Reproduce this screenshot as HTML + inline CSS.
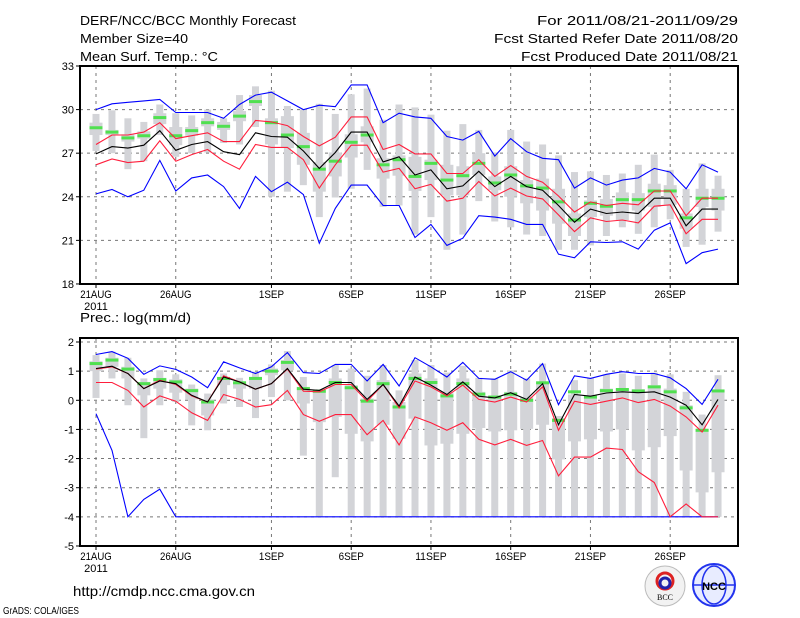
<!DOCTYPE html>
<html><head><meta charset="utf-8"><style>
body{margin:0;background:#fff;}
svg{display:block;font-family:"Liberation Sans",sans-serif;}
text{fill:#000;}
</style></head><body>
<svg id="chart" width="800" height="618" viewBox="0 0 800 618">
<g>
<text x="80" y="25" font-size="13" textLength="216" lengthAdjust="spacingAndGlyphs">DERF/NCC/BCC Monthly Forecast</text>
<text x="80" y="43" font-size="13" textLength="108" lengthAdjust="spacingAndGlyphs">Member Size=40</text>
<text x="80" y="61" font-size="13" textLength="138" lengthAdjust="spacingAndGlyphs">Mean Surf. Temp.: °C</text>
<text x="738" y="25" font-size="13" text-anchor="end" textLength="201" lengthAdjust="spacingAndGlyphs">For 2011/08/21-2011/09/29</text>
<text x="738" y="43" font-size="13" text-anchor="end" textLength="244" lengthAdjust="spacingAndGlyphs">Fcst Started Refer Date 2011/08/20</text>
<text x="738" y="61" font-size="13" text-anchor="end" textLength="217" lengthAdjust="spacingAndGlyphs">Fcst Produced Date 2011/08/21</text>
<text x="80" y="322" font-size="13" textLength="111" lengthAdjust="spacingAndGlyphs">Prec.: log(mm/d)</text>
</g>
<g id="top"></g>
<g id="bot"></g>
<g>
<text x="73" y="596" font-size="14" textLength="182" lengthAdjust="spacingAndGlyphs">http://cmdp.ncc.cma.gov.cn</text>
<text x="3" y="614" font-size="10" textLength="76" lengthAdjust="spacingAndGlyphs">GrADS: COLA/IGES</text>
<g>
<circle cx="665" cy="586" r="20" fill="#f2f2f2" stroke="#bbb"/>
<circle cx="665" cy="581" r="8" fill="none" stroke="#d22" stroke-width="3"/>
<circle cx="665" cy="583" r="5" fill="none" stroke="#22a" stroke-width="3"/>
<text x="665" y="600" font-size="8" text-anchor="middle" font-family="Liberation Serif,serif">BCC</text>
</g>
<g>
<circle cx="714" cy="585" r="21" fill="#e8ecff" stroke="#2233ee" stroke-width="2"/>
<ellipse cx="714" cy="585" rx="12" ry="19" fill="none" stroke="#2233ee" stroke-width="1.5"/>
<line x1="694" y1="585" x2="734" y2="585" stroke="#2233ee" stroke-width="1.5"/>
<text x="714" y="590" font-size="11" text-anchor="middle" fill="#1122cc" font-weight="bold">NCC</text>
</g>
</g>
</svg>
<script>
// x categories
const days = ["21AUG","","","","","26AUG","","","","","","1SEP","","","","","6SEP","","","","","11SEP","","","","","16SEP","","","","","21SEP","","","","","26SEP","","",""];
const tTicks = [18,21,24,27,30,33];
const pTicks = [-5,-4,-3,-2,-1,0,1,2];
// temperature series
const tMax = [30.0,30.4,30.5,30.6,30.7,29.8,29.8,29.8,29.4,30.35,31.0,31.2,30.6,30.0,30.3,30.2,31.7,31.7,29.1,29.75,29.5,29.4,28.15,27.9,28.5,26.8,28.0,27.1,26.65,26.55,24.6,25.3,24.8,25.15,25.3,25.95,25.7,24.55,26.2,25.7];
const tMin = [24.2,24.5,24.0,24.45,26.5,24.4,25.3,25.5,24.7,23.2,25.4,24.35,25.0,24.15,20.8,23.2,24.8,24.8,23.4,23.4,21.2,22.1,20.65,21.15,22.7,22.6,22.45,22.1,22.1,20.05,19.8,20.9,20.85,20.9,20.4,21.7,22.2,19.4,20.15,20.4];
const tMean = [26.95,27.45,27.35,27.55,28.55,27.2,27.6,27.8,27.1,26.9,28.4,28.15,28.1,27.15,25.95,27.05,28.45,28.45,26.4,26.75,25.5,25.85,24.55,24.75,25.75,24.7,25.4,24.7,24.45,23.4,22.25,23.15,22.85,22.95,22.85,23.9,23.9,22.0,23.15,23.15];
const tUp = [27.6,28.25,28.25,28.45,29.1,28.0,28.2,28.4,27.8,27.8,29.25,29.15,28.9,28.15,27.5,28.1,29.5,29.5,27.25,27.6,26.95,26.95,25.6,25.6,26.55,25.4,26.15,25.4,25.0,24.05,22.95,23.65,23.4,23.55,23.45,24.4,24.4,22.7,23.9,23.9];
const tLow = [26.2,26.6,26.35,26.45,27.85,26.45,26.9,27.25,26.45,25.9,27.6,27.4,27.4,26.55,24.6,26.2,27.55,27.55,25.7,25.95,24.55,24.85,23.7,23.9,25.05,24.05,24.6,24.05,23.85,22.75,21.6,22.55,22.3,22.4,22.2,23.35,23.45,21.45,22.45,22.45];
const tMed = [28.75,28.45,28.05,28.2,29.45,28.2,28.55,29.1,28.85,29.55,30.55,29.1,28.25,27.45,25.9,26.45,27.75,28.25,26.2,26.55,25.4,26.3,25.15,25.45,26.3,24.95,25.5,24.75,24.6,23.65,22.4,23.55,23.35,23.8,23.8,24.4,24.4,22.55,23.9,23.9];
const tOutTop = [29.7,29.95,29.4,29.15,30.35,29.75,29.6,30.0,29.4,31.0,31.6,31.3,30.25,30.0,30.4,29.7,31.05,31.45,29.3,30.35,30.15,29.65,28.55,29.0,28.6,27.05,28.6,27.8,27.6,26.85,25.7,25.75,25.5,25.6,26.2,26.9,25.85,24.55,26.3,25.45];
const tOutBot = [27.15,27.0,25.9,26.45,28.25,26.75,27.0,27.05,27.7,27.6,28.8,24.0,24.35,24.8,22.6,23.95,24.55,25.85,23.3,23.4,21.4,22.6,20.35,21.4,23.7,22.3,21.9,21.4,21.3,20.35,20.35,20.65,21.3,21.9,21.45,21.9,22.45,20.55,20.7,21.6];
const tInTop = [29.1,28.6,28.3,28.5,29.75,28.8,28.8,29.4,29.15,29.9,31.0,29.4,29.55,28.4,26.4,27.05,28.3,28.85,26.65,26.85,26.75,26.55,26.2,26.1,27.0,25.4,26.1,25.15,25.25,24.55,22.85,23.75,23.85,24.3,24.25,24.9,24.8,22.85,24.55,24.55];
const tInBot = [28.25,28.25,27.8,28.0,29.0,27.55,28.2,28.85,28.6,29.2,30.25,27.6,27.35,26.2,24.35,25.4,26.7,27.75,25.25,25.45,24.4,25.15,24.1,24.1,25.5,24.45,24.0,23.55,23.05,22.15,21.3,22.6,22.7,22.4,23.05,23.3,23.45,21.8,23.3,23.05];
// precipitation series
const pMax = [1.57,1.67,1.44,0.89,1.18,1.06,0.8,0.43,1.32,1.11,0.92,1.15,1.64,0.95,0.92,1.23,1.23,0.66,1.23,0.49,1.46,1.15,0.8,1.3,0.75,0.72,0.98,0.69,1.26,-0.15,0.84,0.75,0.89,0.98,0.92,0.92,0.77,0.4,-0.14,0.72];
const pMin = [-0.46,-1.72,-4,-3.4,-3.05,-4,-4,-4,-4,-4,-4,-4,-4,-4,-4,-4,-4,-4,-4,-4,-4,-4,-4,-4,-4,-4,-4,-4,-4,-4,-4,-4,-4,-4,-4,-4,-4,-4,-4,-4];
const pMean = [1.09,1.17,0.92,0.4,0.66,0.57,0.17,-0.06,0.8,0.63,0.38,0.57,1.09,0.38,0.34,0.61,0.61,0.03,0.54,-0.2,0.8,0.52,0.2,0.63,0.14,0.08,0.26,0.03,0.57,-0.84,0.2,0.14,0.25,0.29,0.26,0.29,0.11,-0.17,-0.84,0.03];
const pUp = [1.07,1.15,0.92,0.4,0.69,0.54,0.15,-0.06,0.84,0.63,0.38,0.57,1.07,0.31,0.29,0.54,0.54,-0.03,0.54,-0.26,0.66,0.46,0.15,0.52,0.03,-0.06,0.11,-0.06,0.46,-1.03,-0.03,-0.14,-0.03,0.08,-0.08,0.03,-0.2,-0.57,-1.09,-0.17];
const pLow = [0.61,0.61,0.34,-0.23,0.15,-0.03,-0.43,-0.69,0.2,0.03,-0.23,-0.15,0.34,-0.49,-0.72,-0.49,-0.49,-1.18,-0.69,-1.53,-0.57,-0.77,-1.03,-0.77,-1.34,-1.53,-1.34,-1.55,-1.38,-2.59,-1.95,-1.95,-1.64,-1.69,-2.45,-2.82,-4,-3.56,-4,-4];
const pMed = [1.26,1.38,1.07,0.57,0.71,0.63,0.33,-0.06,0.75,0.6,0.75,1.0,1.3,0.4,0.31,0.61,0.43,-0.03,0.57,-0.23,0.75,0.61,0.15,0.57,0.21,0.11,0.21,0.0,0.6,-0.69,0.29,0.11,0.33,0.37,0.32,0.46,0.29,-0.26,-1.03,0.32];
const pOutTop = [1.55,1.67,1.46,0.75,1.03,0.89,0.54,0.23,0.92,0.77,0.98,1.23,1.69,0.8,0.38,1.21,1.09,0.84,1.21,0.34,1.38,1.21,0.95,1.18,0.77,0.75,1.03,0.75,1.26,-0.54,0.69,0.77,0.89,0.92,0.84,0.95,0.89,0.29,-0.49,0.86];
const pOutBot = [0.08,0.75,-0.17,-1.3,-0.17,-0.06,-0.86,-1.03,-0.11,-0.23,-0.61,0.11,0.0,-1.9,-4,-2.64,-4,-4,-4,-4,-4,-4,-4,-4,-4,-4,-4,-4,-4,-4,-4,-4,-4,-4,-4,-4,-4,-4,-4,-4];
const pInTop = [1.34,1.46,1.15,0.63,0.77,0.72,0.4,0.03,0.8,0.63,0.8,1.09,1.38,0.46,0.34,0.75,0.52,0.06,0.69,-0.06,0.92,0.75,0.29,0.75,0.29,0.15,0.29,0.11,0.63,-0.61,0.2,0.17,0.4,0.4,0.38,0.52,0.4,-0.17,-0.98,0.34];
const pInBot = [1.0,1.15,0.75,0.17,0.4,0.26,0.03,-0.52,0.52,0.4,0.4,0.86,1.03,-0.11,-0.75,-0.57,-1.15,-1.41,-0.84,-1.32,-0.63,-1.55,-1.49,-1.15,-0.95,-1.07,-1.03,-0.98,-0.84,-2.03,-1.41,-1.34,-1.07,-1.0,-1.72,-1.61,-1.23,-2.41,-3.16,-2.47];

const NS = "http://www.w3.org/2000/svg";
const X0 = 80, X1 = 738;
function xs(i){ return 96 + 15.95 * i; }
function yT(v){ return 66 + (33 - v) * 14.53; }
function yB(v){ return 342 + (2 - v) * 29.14; }
function mk(tag, attrs, parent){
  const e = document.createElementNS(NS, tag);
  for (const k in attrs) e.setAttribute(k, attrs[k]);
  parent.appendChild(e);
  return e;
}
function panel(g, ys, top, bot, ticks, S, nm){
  // grid
  ticks.forEach(t => {
    const y = ys(t);
    if (y > top + 2 && y < bot - 2) {
      const l = mk("line", {x1:X0, x2:X1, y1:y, y2:y, stroke:"#777", "stroke-dasharray":"3,4", "stroke-width":1}, g);
      
      
    }
    const tk = mk("line", {x1:X0-4, x2:X0, y1:y, y2:y, stroke:"#000"}, g);
    
    
    const tx = mk("text", {x:X0-6, y:y+4, "font-size":11, "text-anchor":"end"}, g);
    tx.textContent = t;
    
    
  });
  days.forEach((d, i) => {
    if (!d) return;
    const x = xs(i);
    const l = mk("line", {x1:x, x2:x, y1:top, y2:bot, stroke:"#777", "stroke-dasharray":"3,4"}, g);
    
    
    const tk = mk("line", {x1:x, x2:x, y1:bot, y2:bot+4, stroke:"#000"}, g);
    
    
    const tx = mk("text", {x:x, y:bot+14, "font-size":11, "text-anchor":"middle", textLength: d.length*6.3, lengthAdjust:"spacingAndGlyphs"}, g);
    tx.textContent = d;
    
    
  });
  const yr = mk("text", {x:xs(0), y:bot+26, "font-size":11, "text-anchor":"middle"}, g);
  yr.textContent = "2011";
  
  
  // boxes
  days.forEach((d, i) => {
    const x = xs(i);
    const o = mk("rect", {x:x-3.5, width:7, y:ys(S.ot[i]), height:Math.max(1, ys(S.ob[i]) - ys(S.ot[i])), fill:"#d3d4d8"}, g);
    
    
    const n = mk("rect", {x:x-6.5, width:13, y:ys(S.it[i]), height:Math.max(1, ys(S.ib[i]) - ys(S.it[i])), fill:"#d3d4d8"}, g);
    
    
    const m = mk("rect", {x:x-6.5, width:13, y:ys(S.med[i]) - 1.5, height:3, fill:"#50e050"}, g);
    
    
  });
  const lines = [[S.max,"#0000ff","max-line"],[S.min,"#0000ff","min-line"],[S.up,"#ff1e3c","upper-sd-line"],[S.low,"#ff1e3c","lower-sd-line"],[S.mean,"#000","mean-line"]];
  lines.forEach(([arr, c, name]) => {
    const p = mk("polyline", {points: arr.map((v,i) => xs(i).toFixed(1) + "," + ys(v).toFixed(1)).join(" "), fill:"none", stroke:c, "stroke-width":1.1}, g);
    
    
  });
  const fr = mk("rect", {x:X0, y:top, width:X1-X0, height:bot-top, fill:"none", stroke:"#000", "stroke-width":2}, g);
  
  
}
const gt = document.getElementById("top");


panel(gt, yT, 66, 284, tTicks, {max:tMax,min:tMin,mean:tMean,up:tUp,low:tLow,med:tMed,ot:tOutTop,ob:tOutBot,it:tInTop,ib:tInBot}, "temperature");
const gb = document.getElementById("bot");


panel(gb, yB, 338, 546, pTicks, {max:pMax,min:pMin,mean:pMean,up:pUp,low:pLow,med:pMed,ot:pOutTop,ob:pOutBot,it:pInTop,ib:pInBot}, "precipitation");
</script>
</body></html>
